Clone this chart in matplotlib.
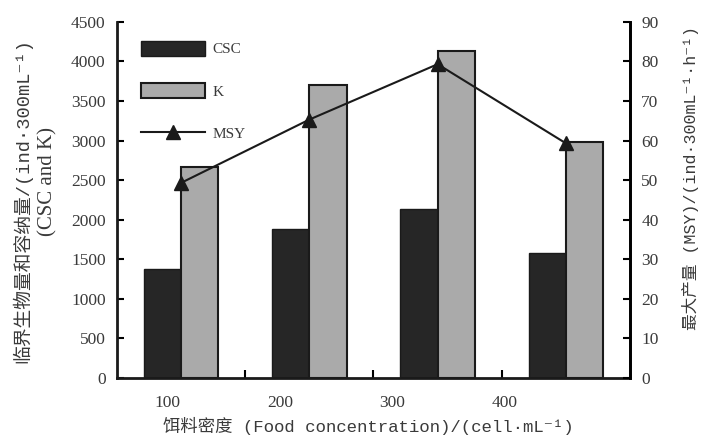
import numpy as np
import matplotlib
matplotlib.use("Agg")
import matplotlib.pyplot as plt
from matplotlib.patches import Patch
from matplotlib.lines import Line2D

plt.rcParams['font.family'] = ['Liberation Serif', 'Noto Sans CJK SC', 'DejaVu Sans']
mono = ['Liberation Mono', 'Noto Sans CJK SC', 'DejaVu Sans']

categories = ['100', '200', '300', '400']
csc = [1380, 1880, 2140, 1580]
k_vals = [2670, 3700, 4130, 2980]
msy = [49.3, 65.3, 79.3, 59.3]
left_ticks = [0, 500, 1000, 1500, 2000, 2500, 3000, 3500, 4000, 4500]
right_ticks = [0, 10, 20, 30, 40, 50, 60, 70, 80, 90]

txt = '#3a3a3a'
fig = plt.figure(figsize=(7.08, 4.46), dpi=100)
ax = fig.add_axes([0.165, 0.1525, 0.725, 0.7985])
x = np.arange(1, len(categories) + 1)
w = 0.29
ax.bar(x - w / 2, csc, width=w, color='#262626', edgecolor='#1a1a1a', linewidth=1.0, zorder=2)
ax.bar(x + w / 2, k_vals, width=w, color='#aaaaaa', edgecolor='#1a1a1a', linewidth=1.5, zorder=2)
ax.set_xlim(0.5, 4.5)
ax.set_ylim(0, 4500)
ax.set_yticks(left_ticks)
ax.set_yticklabels([str(t) for t in left_ticks], color=txt, fontsize=12.5)
ax.tick_params(axis='y', direction='in', length=5, width=1.5, pad=8)
# category labels (slightly offset as in reference) and boundary ticks
label_pos = 0.897 + 0.875 * np.arange(len(categories))
ax.set_xticks(label_pos)
ax.set_xticklabels(categories, color=txt, fontsize=12.5)
ax.tick_params(axis='x', which='major', length=0, pad=12)
ax.set_xticks((x[:-1] + x[1:]) / 2, minor=True)
ax.tick_params(axis='x', which='minor', direction='in', length=6, width=1.5)
for s in ['left', 'bottom', 'right']:
    ax.spines[s].set_linewidth(2)
    ax.spines[s].set_color('#1a1a1a')
ax.spines['top'].set_visible(False)

ax2 = ax.twinx()
ax2.plot(x, msy, color='#1a1a1a', linewidth=1.5, marker='^', markersize=10, zorder=3)
ax2.set_ylim(0, 90)
ax2.set_yticks(right_ticks)
ax2.set_yticklabels([str(t) for t in right_ticks], color=txt, fontsize=12.5)
ax2.tick_params(axis='y', direction='in', length=5, width=1.5, pad=8)
ax2.spines['top'].set_visible(False)
ax2.spines['right'].set_linewidth(2)
ax2.spines['left'].set_visible(False)
ax2.spines['bottom'].set_visible(False)

handles = [Patch(facecolor='#262626', edgecolor='#1a1a1a'),
           Patch(facecolor='#aaaaaa', edgecolor='#1a1a1a', linewidth=1.5),
           Line2D([0], [0], color='#1a1a1a', linewidth=1.5, marker='^', markersize=10)]
leg = ax.legend(handles, ['CSC', 'K', 'MSY'], loc='upper left', bbox_to_anchor=(0.02, 0.985),
                frameon=False, handlelength=4.2, handleheight=1.1, labelspacing=1.75,
                handletextpad=0.5, fontsize=11)
for t in leg.get_texts():
    t.set_color(txt)

fig.text(0.032, 0.55, '临界生物量和容纳量/(ind·300mL⁻¹)', rotation=90, ha='center', va='center',
         color=txt, fontsize=13.5, family=mono)
fig.text(0.068, 0.594, '(CSC and K)', rotation=90, ha='center', va='center', color=txt, fontsize=15)
fig.text(0.975, 0.60, '最大产量 (MSY)/(ind·300mL⁻¹·h⁻¹)', rotation=90, ha='center', va='center',
         color=txt, fontsize=12, family=mono)
fig.text(0.52, 0.045, '饵料密度 (Food concentration)/(cell·mL⁻¹)', ha='center', va='center',
         color=txt, fontsize=12.5, family=mono)

fig.savefig('out.png', dpi=100)
